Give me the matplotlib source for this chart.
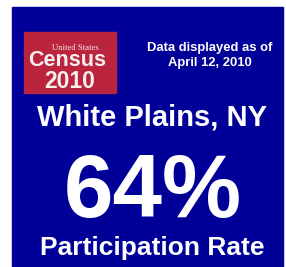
import matplotlib
matplotlib.use("Agg")
from matplotlib import pyplot
from matplotlib.patches import Rectangle

# 表示データ
place = "White Plains, NY"
rate_value = 64
rate_label = "Participation Rate"
as_of_lines = ["Data displayed as of", "April 12, 2010"]
logo_lines = ["United States", "Census", "2010"]

W, H = 286, 267
blue = "#000099"
red = "#BA243C"

fig = pyplot.figure(figsize=(W / 100, H / 100), dpi=100)
ax = fig.add_axes([0, 0, 1, 1])
ax.set_xlim(0, W)
ax.set_ylim(H, 0)
ax.axis("off")

# 背景の青い枠
ax.add_patch(Rectangle((12, 7), 271, 261, color=blue, zorder=1))
# ロゴの赤い枠
ax.add_patch(Rectangle((24, 32), 92, 61, color=red, zorder=2))

font = "Liberation Sans"
ax.text(75, 49.5, logo_lines[0], color="#F2E6E8", fontsize=6.2, family="Liberation Serif",
        ha="center", va="baseline", zorder=3)
ax.text(67.5, 66.5, logo_lines[1], color="#F7EEF0", fontsize=15.5, family=font,
        weight="bold", ha="center", va="baseline", zorder=3)
ax.text(70, 87.5, logo_lines[2], color="#F7EEF0", fontsize=16.5, family=font,
        weight="bold", ha="center", va="baseline", zorder=3)

ax.text(209.5, 51, as_of_lines[0], color="white", fontsize=9.4, family=font,
        weight="bold", ha="center", va="baseline", zorder=3)
ax.text(209.5, 66, as_of_lines[1], color="white", fontsize=9.4, family=font,
        weight="bold", ha="center", va="baseline", zorder=3)

ax.text(152, 126, place, color="white", fontsize=21, family=font,
        weight="bold", ha="center", va="baseline", zorder=3)
ax.text(153, 217, f"{rate_value}%", color="white", fontsize=64, family=font,
        weight="bold", ha="center", va="baseline", zorder=3)
ax.text(152.5, 255, rate_label, color="white", fontsize=19, family=font,
        weight="bold", ha="center", va="baseline", zorder=3)

fig.savefig("out.png", dpi=100, facecolor="white")
pyplot.close(fig)
